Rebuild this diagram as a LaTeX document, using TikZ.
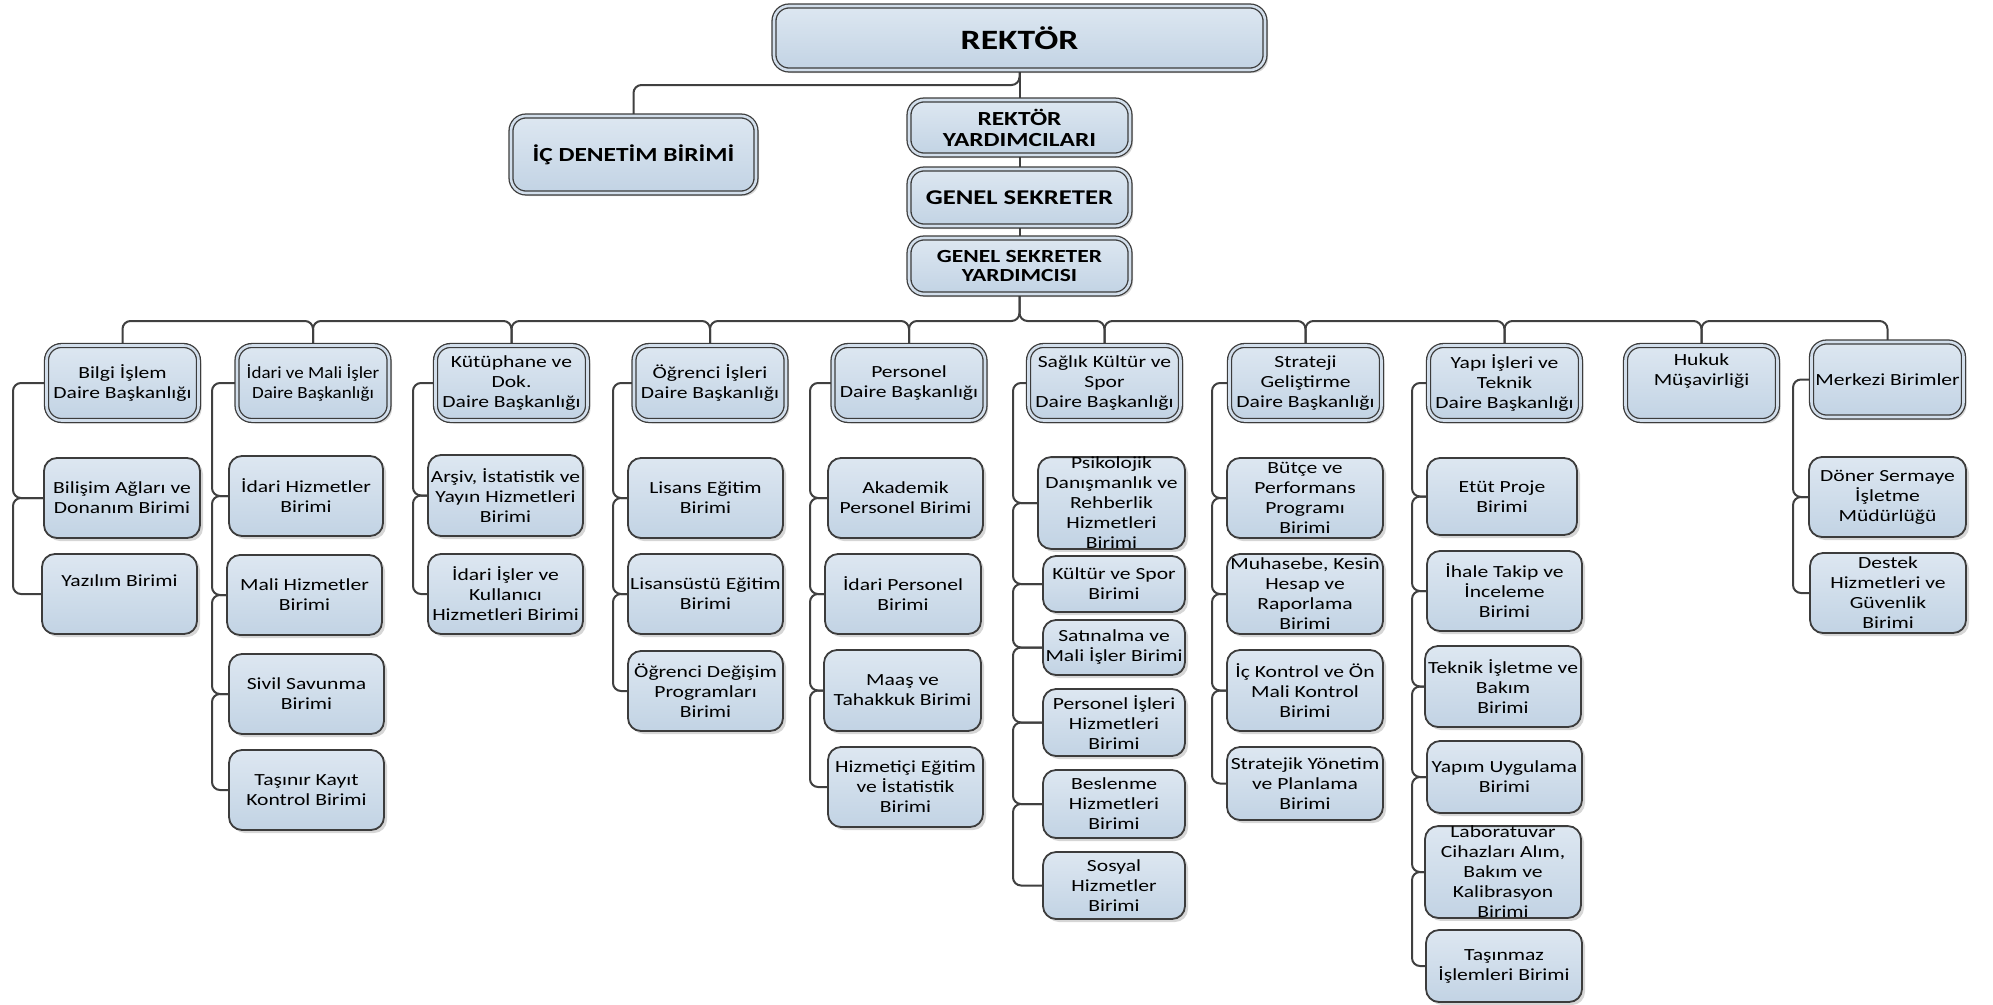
\documentclass[tikz,border=0pt]{standalone}
\usepackage{fontspec}
\newfontfamily\bodyf[FakeStretch=1.27]{Carlito}
\newfontfamily\condf[FakeStretch=1.12]{Carlito}
\usetikzlibrary{shadows,calc}
\definecolor{fillA}{RGB}{221,231,241}
\definecolor{fillB}{RGB}{194,211,228}
\definecolor{gapc}{RGB}{210,222,235}
\definecolor{bordc}{RGB}{60,60,60}
\definecolor{connc}{RGB}{64,64,64}
\pgfdeclarelayer{bg}
\pgfsetlayers{bg,main}
\tikzset{
  box/.style={rectangle, rounded corners=13pt, draw=bordc, line width=1.8pt,
    top color=fillA, bottom color=fillB, align=center, inner sep=0pt, text=black,
    font=\bodyf\fontsize{17}{20}\selectfont,
    drop shadow={shadow xshift=3pt, shadow yshift=-3pt, opacity=0.16, fill=black}},
  dbox/.style={box, rounded corners=15pt, line width=1.3pt, double=gapc, double distance=2.6pt},
  dept/.style={dbox, minimum width=152pt, minimum height=75pt},
  topbox/.style={dbox, font=\bodyf\bfseries\fontsize{20}{22}\selectfont},
  conn/.style={draw=connc, line width=2pt, rounded corners=8pt},
}
\newcommand\mkbox[5]{\node[box, minimum width=#4pt, minimum height=#5pt] (#1) at (#2) {#3};}
\newcommand\mkdept[3]{\node[dept] (#1) at (#2) {#3};}
\newcommand\vlink[3]{\draw[conn] (#1.west) -- (#1.west -| #3) -- (#2.west -| #3) -- (#2.west);}
\newcommand\blink[2]{\draw[conn] (#1.north) -- (#1.north |- bus) -- (#2.north |- bus) -- (#2.north);}
\begin{document}
\begin{tikzpicture}[x=1pt, y=-1pt]
\useasboundingbox (0,0) rectangle (1993,1004);
\begin{pgfonlayer}{bg}
\fill[white] (0,0) rectangle (1993,1004);
\end{pgfonlayer}
\coordinate (bus) at (0,321);
\coordinate (tbus) at (0,85);
\coordinate (v1) at (13,0);
\coordinate (v2) at (212,0);
\coordinate (v3) at (413,0);
\coordinate (v4) at (613,0);
\coordinate (v5) at (810,0);
\coordinate (v6) at (1013,0);
\coordinate (v7) at (1212,0);
\coordinate (v8) at (1412,0);
\coordinate (v10) at (1793,0);

% top
\node[topbox, font=\bodyf\bfseries\fontsize{28}{30}\selectfont, minimum width=491pt, minimum height=64pt] (rektor) at (1019.5,38) {REKTÖR};
\node[topbox, minimum width=245pt, minimum height=77pt] (ic) at (633.5,154.5) {İÇ DENETİM BİRİMİ};
\node[topbox, font=\bodyf\bfseries\fontsize{20}{21}\selectfont, minimum width=221pt, minimum height=55pt] (ry) at (1019.5,127.5) {REKTÖR\\YARDIMCILARI};
\node[topbox, font=\bodyf\bfseries\fontsize{21}{22}\selectfont, minimum width=221pt, minimum height=57pt] (gs) at (1019.5,197.5) {GENEL SEKRETER};
\node[topbox, font=\bodyf\bfseries\fontsize{18.5}{19}\selectfont, minimum width=221pt, minimum height=56pt] (gsy) at (1019.5,266) {GENEL SEKRETER\\YARDIMCISI};

% departments
\mkdept{bilgi}{122.5,383}{Bilgi İşlem\\Daire Başkanlığı}
\node[dept, font=\condf\fontsize{17}{20}\selectfont] (idari) at (313,383) {İdari ve Mali İşler\\Daire Başkanlığı};
\mkdept{kutup}{511.5,383}{Kütüphane ve\\Dok.\\Daire Başkanlığı}
\mkdept{ogr}{710,383}{Öğrenci İşleri\\Daire Başkanlığı}
\mkdept{pers}{909,383}{Personel\\Daire Başkanlığı}
\mkdept{saglik}{1104.5,383}{Sağlık Kültür ve\\Spor\\Daire Başkanlığı}
\mkdept{strat}{1305.5,383}{Strateji\\Geliştirme\\Daire Başkanlığı}
\mkdept{yapi}{1504.5,383}{Yapı İşleri ve\\Teknik\\Daire Başkanlığı}
\mkdept{hukuk}{1701.5,383}{Hukuk\\Müşavirliği\\\strut}
\mkdept{merkez}{1887.5,379.5}{Merkezi Birimler}

% column 1
\mkbox{c11}{122,498}{Bilişim Ağları ve\\Donanım Birimi}{156}{80}
\mkbox{c12}{119.5,594}{Yazılım Birimi\\\strut}{155}{80}
% column 2
\mkbox{c21}{306,496}{İdari Hizmetler\\Birimi}{154}{80}
\mkbox{c22}{304.5,595}{Mali Hizmetler\\Birimi}{155}{80}
\mkbox{c23}{306.5,694}{Sivil Savunma\\Birimi}{155}{80}
\mkbox{c24}{306.5,790}{Taşınır Kayıt\\Kontrol Birimi}{155}{80}
% column 3
\mkbox{c31}{505.5,495.5}{Arşiv, İstatistik ve\\Yayın Hizmetleri\\Birimi}{155}{81}
\mkbox{c32}{505.5,594}{İdari İşler ve\\Kullanıcı\\Hizmetleri Birimi}{155}{80}
% column 4
\mkbox{c41}{705.5,498}{Lisans Eğitim\\Birimi}{155}{80}
\mkbox{c42}{705.5,594}{Lisansüstü Eğitim\\Birimi}{155}{80}
\mkbox{c43}{705.5,691}{Öğrenci Değişim\\Programları\\Birimi}{155}{80}
% column 5
\mkbox{c51}{905.5,498}{Akademik\\Personel Birimi}{155}{80}
\mkbox{c52}{903,594}{İdari Personel\\Birimi}{156}{80}
\mkbox{c53}{902.5,690.5}{Maaş ve\\Tahakkuk Birimi}{157}{81}
\mkbox{c54}{905.5,787}{Hizmetiçi Eğitim\\ve İstatistik\\Birimi}{155}{80}
% column 6
\mkbox{c61}{1111.5,503}{Psikolojik\\Danışmanlık ve\\Rehberlik\\Hizmetleri\\Birimi}{147}{90}
\mkbox{c62}{1114,584}{Kültür ve Spor\\Birimi}{142}{56}
\mkbox{c63}{1114,647.5}{Satınalma ve\\Mali İşler Birimi}{142}{55}
\mkbox{c64}{1114,722.5}{Personel İşleri\\Hizmetleri\\Birimi}{142}{67}
\mkbox{c65}{1114,804}{Beslenme\\Hizmetleri\\Birimi}{142}{68}
\mkbox{c66}{1114,885.5}{Sosyal\\Hizmetler\\Birimi}{142}{67}
% column 7
\mkbox{c71}{1305,498}{Bütçe ve\\Performans\\Programı\\Birimi}{156}{80}
\mkbox{c72}{1305,594}{Muhasebe, Kesin\\Hesap ve\\Raporlama\\Birimi}{156}{80}
\mkbox{c73}{1305,690.5}{İç Kontrol ve Ön\\Mali Kontrol\\Birimi}{156}{81}
\mkbox{c74}{1305,783.5}{Stratejik Yönetim\\ve Planlama\\Birimi}{156}{73}
% column 8
\mkbox{c81}{1502,496.5}{Etüt Proje\\Birimi}{150}{77}
\mkbox{c82}{1504.5,591}{İhale Takip ve\\İnceleme\\Birimi}{155}{80}
\mkbox{c83}{1503,686.5}{Teknik İşletme ve\\Bakım\\Birimi}{156}{81}
\mkbox{c84}{1504.5,777}{Yapım Uygulama\\Birimi}{155}{72}
\mkbox{c85}{1503,872}{Laboratuvar\\Cihazları Alım,\\Bakım ve\\Kalibrasyon\\Birimi}{156}{90}
\mkbox{c86}{1504,966}{Taşınmaz\\İşlemleri Birimi}{156}{72}
% column 10
\mkbox{c101}{1887.5,497}{Döner Sermaye\\İşletme\\Müdürlüğü}{157}{80}
\mkbox{c102}{1888,593}{Destek\\Hizmetleri ve\\Güvenlik\\Birimi}{156}{80}

\begin{pgfonlayer}{bg}
% top connectors
\draw[conn] (rektor.south) -- (ry.north);
\draw[conn] (rektor.south) -- (rektor.south |- tbus) -- (ic.north |- tbus) -- (ic.north);
\draw[conn] (ry.south) -- (gs.north);
\draw[conn] (gs.south) -- (gsy.north);
% bus
\draw[conn] (gsy.south) -- (gsy.south |- bus) -- (pers.north |- bus) -- (pers.north);
\draw[conn] (gsy.south) -- (gsy.south |- bus) -- (saglik.north |- bus) -- (saglik.north);
\blink{bilgi}{idari}
\blink{idari}{kutup}
\blink{kutup}{ogr}
\blink{ogr}{pers}
\blink{saglik}{strat}
\blink{strat}{yapi}
\blink{yapi}{hukuk}
\blink{hukuk}{merkez}
% column links
\vlink{bilgi}{c11}{v1}
\vlink{c11}{c12}{v1}
\vlink{idari}{c21}{v2}
\vlink{c21}{c22}{v2}
\vlink{c22}{c23}{v2}
\vlink{c23}{c24}{v2}
\vlink{kutup}{c31}{v3}
\vlink{c31}{c32}{v3}
\vlink{ogr}{c41}{v4}
\vlink{c41}{c42}{v4}
\vlink{c42}{c43}{v4}
\vlink{pers}{c51}{v5}
\vlink{c51}{c52}{v5}
\vlink{c52}{c53}{v5}
\vlink{c53}{c54}{v5}
\vlink{saglik}{c61}{v6}
\vlink{c61}{c62}{v6}
\vlink{c62}{c63}{v6}
\vlink{c63}{c64}{v6}
\vlink{c64}{c65}{v6}
\vlink{c65}{c66}{v6}
\vlink{strat}{c71}{v7}
\vlink{c71}{c72}{v7}
\vlink{c72}{c73}{v7}
\vlink{c73}{c74}{v7}
\vlink{yapi}{c81}{v8}
\vlink{c81}{c82}{v8}
\vlink{c82}{c83}{v8}
\vlink{c83}{c84}{v8}
\vlink{c84}{c85}{v8}
\vlink{c85}{c86}{v8}
\vlink{merkez}{c101}{v10}
\vlink{c101}{c102}{v10}
\end{pgfonlayer}
\end{tikzpicture}
\end{document}
